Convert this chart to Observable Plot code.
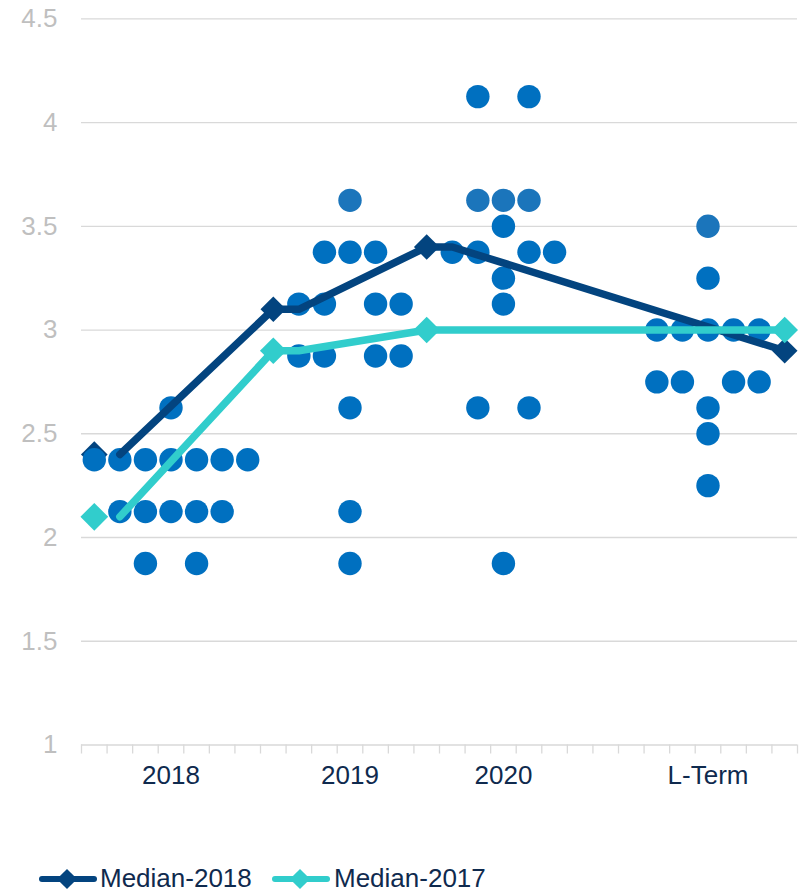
<!DOCTYPE html>
<html>
<head>
<meta charset="utf-8">
<script src="https://cdn.jsdelivr.net/npm/d3@7"></script>
<script src="https://cdn.jsdelivr.net/npm/@observablehq/plot@0.6"></script>
<style>
  html, body { margin: 0; padding: 0; background: #fff; }
  #chart svg { display: block; }
  #legend { position: relative; width: 803px; height: 40px; font-family: 'Liberation Sans', Arial, sans-serif; font-size: 26px; color: #0f2a4e; }
  #legend span { position: absolute; top: 13px; line-height: 26px; white-space: nowrap; }
  #legend svg { position: absolute; top: 15px; }
</style>
</head>
<body>
<div id="chart"></div>
<div id="legend"></div>
<script>
// ---- data ----
const slotCount = 28;                       // column slots along the x axis
const periods = ["2018", "2019", "2020", "L-Term"];
const periodCols = [3, 10, 16, 24];         // slot at which each period label sits
const yTicks = [1, 1.5, 2, 2.5, 3, 3.5, 4, 4.5];

// individual projections: [slot, rate]
const dots2018 = [[0,2.375],[1,2.375],[2,2.375],[3,2.375],[4,2.375],[5,2.375],[6,2.375],
  [3,2.625],[1,2.125],[2,2.125],[3,2.125],[4,2.125],[5,2.125],[2,1.875],[4,1.875]];
const dots2019 = [[10,3.625],[9,3.375],[10,3.375],[11,3.375],[8,3.125],[9,3.125],[11,3.125],[12,3.125],
  [8,2.875],[9,2.875],[11,2.875],[12,2.875],[10,2.625],[10,2.125],[10,1.875]];
const dots2020 = [[15,4.125],[17,4.125],[15,3.625],[16,3.625],[17,3.625],[16,3.5],
  [14,3.375],[15,3.375],[17,3.375],[18,3.375],[16,3.25],[16,3.125],[15,2.625],[17,2.625],[16,1.875]];
const dotsLT = [[24,3.5],[24,3.25],[22,3],[23,3],[24,3],[25,3],[26,3],
  [22,2.75],[23,2.75],[25,2.75],[26,2.75],[24,2.625],[24,2.5],[24,2.25]];
const lighterDots = [[10,3.625],[15,3.625],[16,3.625],[17,3.625],[24,3.5]];

// medians: markers and line paths, [slot, rate]
const median2018 = [[0,2.4],[7,3.1],[13,3.4],[27,2.9]];
const median2018Path = [[1,2.4],[7,3.1],[8,3.1],[13,3.4],[14,3.4],[27,2.9]];
const median2017 = [[0,2.1],[7,2.9],[13,3.0],[27,3.0]];
const median2017Path = [[1,2.1],[7,2.9],[8,2.9],[13,3.0],[27,3.0]];
const seriesNames = ["Median-2018", "Median-2017"];

// ---- styles ----
const DARK = "#03447f", CYAN = "#31cdcc", BLUE = "#0070c0", BLUE2 = "#1b75bb";
const NAVY = "#0f2a4e", GRID = "#d9d9d9";

const allDots = [...dots2018, ...dots2019, ...dots2020, ...dotsLT].map(([c, v]) => ({
  c, v, light: lighterDots.some(([lc, lv]) => lc === c && lv === v)
}));
const boundaries = d3.range(slotCount + 1).map(i => i - 0.5);
const X = d => d[0], Y = d => d[1];

const chart = Plot.plot({
  width: 803,
  height: 852,
  marginLeft: 81,
  marginRight: 6,
  marginTop: 18.3,
  marginBottom: 107.5,
  x: {domain: [-0.5, slotCount - 0.5]},
  y: {domain: [1, 4.5]},
  style: {fontFamily: "'Liberation Sans', Arial, sans-serif", fontSize: "26px", background: "white", overflow: "visible"},
  marks: [
    Plot.gridY(yTicks.filter(d => d > 1), {stroke: GRID, strokeOpacity: 1, strokeWidth: 1.3}),
    Plot.ruleY([1], {stroke: GRID, strokeWidth: 1.3}),
    Plot.axisX({ticks: boundaries, tickSize: 9, tickFormat: () => "", stroke: GRID, strokeOpacity: 1, strokeWidth: 1.3, label: null}),
    Plot.axisX({ticks: periodCols, tickSize: 0, tickPadding: 20.5, tickFormat: d => periods[periodCols.indexOf(d)], fill: NAVY, fontSize: 26, label: null}),
    Plot.axisY({ticks: yTicks, tickSize: 0, tickPadding: 24, tickFormat: d => String(d), fill: "#bfbfbf", fontSize: 26, label: null}),
    // markers at first slot sit beneath the dots
    Plot.dot(median2018.filter(d => d[0] === 0), {x: X, y: Y, symbol: "diamond2", r: 12, fill: DARK}),
    Plot.dot(median2017.filter(d => d[0] === 0), {x: X, y: Y, symbol: "diamond2", r: 12.5, fill: CYAN}),
    Plot.dot(allDots, {x: "c", y: "v", r: 11.7, fill: d => d.light ? BLUE2 : BLUE}),
    Plot.line(median2018Path, {x: X, y: Y, stroke: DARK, strokeWidth: 7.5, strokeLinecap: "round", strokeLinejoin: "round"}),
    Plot.dot(median2018.filter(d => d[0] !== 0), {x: X, y: Y, symbol: "diamond2", r: 11.5, fill: DARK}),
    Plot.line(median2017Path, {x: X, y: Y, stroke: CYAN, strokeWidth: 7.5, strokeLinecap: "round", strokeLinejoin: "round"}),
    Plot.dot(median2017.filter(d => d[0] !== 0), {x: X, y: Y, symbol: "diamond2", r: 12, fill: CYAN})
  ]
});
document.getElementById("chart").appendChild(chart);

// ---- legend ----
const legend = document.getElementById("legend");
const items = [
  {name: seriesNames[0], color: DARK, swatchLeft: 36, textLeft: 100},
  {name: seriesNames[1], color: CYAN, swatchLeft: 269, textLeft: 334}
];
for (const it of items) {
  const s = d3.create("svg").attr("width", 64).attr("height", 24);
  s.append("line").attr("x1", 6).attr("x2", 58).attr("y1", 12).attr("y2", 12)
    .attr("stroke", it.color).attr("stroke-width", 6).attr("stroke-linecap", "round");
  s.append("path").attr("d", d3.symbol(d3.symbolDiamond2, 260)()).attr("transform", "translate(31,12)").attr("fill", it.color);
  s.style("left", it.swatchLeft + "px");
  legend.appendChild(s.node());
  const t = document.createElement("span");
  t.textContent = it.name;
  t.style.left = it.textLeft + "px";
  legend.appendChild(t);
}
</script>
</body>
</html>
